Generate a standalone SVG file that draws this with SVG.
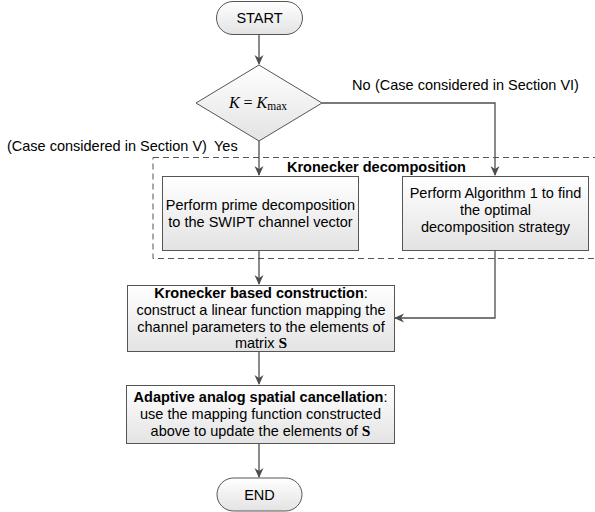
<svg xmlns="http://www.w3.org/2000/svg" width="595" height="512" viewBox="0 0 595 512">
<defs>
<linearGradient id="g" x1="0" y1="0" x2="0" y2="1">
<stop offset="0" stop-color="#ffffff"/>
<stop offset="1" stop-color="#e3e3e3"/>
</linearGradient>
<marker id="arr" viewBox="0 0 10 10" refX="9" refY="5" markerWidth="10" markerHeight="10" markerUnits="userSpaceOnUse" orient="auto">
<path d="M0,0.5 L10,5 L0,9.5 L3,5 z" fill="#4d4d4d"/>
</marker>
<style>
.n{fill:url(#g);stroke:#555;stroke-width:1}
.t{font-family:"Liberation Sans",Arial,Helvetica,sans-serif;font-size:14.5px;fill:#000}
.c{text-anchor:middle}
.b{font-weight:bold}
.e{stroke:#4d4d4d;stroke-width:1.3;fill:none}
.m{font-family:"Liberation Serif","Times New Roman",serif;fill:#000}
</style>
</defs>
<g id="kronecker-decomposition-group">
<rect x="153" y="157.5" width="450" height="101" fill="none" stroke="#555" stroke-width="1" stroke-dasharray="6,4"/>
<text class="t b" x="287" y="172" font-size="14">Kronecker decomposition</text>
</g>
<g id="connectors">
<path class="e" d="M259,34 V64" marker-end="url(#arr)"/>
<path class="e" d="M259,141 V175" marker-end="url(#arr)"/>
<path class="e" d="M322,103 H495 V175" marker-end="url(#arr)"/>
<path class="e" d="M259,250 V284" marker-end="url(#arr)"/>
<path class="e" d="M495,250 V318 H395" marker-end="url(#arr)"/>
<path class="e" d="M259,351 V384" marker-end="url(#arr)"/>
<path class="e" d="M259,443 V477" marker-end="url(#arr)"/>
<text class="t" x="352" y="90">No</text>
<text class="t" x="375" y="90">(Case considered in Section VI)</text>
<text class="t" x="7" y="151">(Case considered in Section V)</text>
<text class="t" x="214" y="151">Yes</text>
</g>
<g id="start">
<rect class="n" x="216.5" y="1.5" width="86" height="33" rx="16.5"/>
<text class="t c" x="259.5" y="23">START</text>
</g>
<g id="decision">
<polygon class="n" points="259,65 322,103 259,141 196,103"/>
<text class="m" x="258" y="108" text-anchor="middle" font-size="16"><tspan font-style="italic">K</tspan> = <tspan font-style="italic">K</tspan><tspan font-size="11.5" dy="2">max</tspan></text>
</g>
<g id="prime-decomposition">
<rect class="n" x="162.5" y="176.5" width="196" height="74"/>
<text class="t c" x="260.5" y="210">Perform prime decomposition</text>
<text class="t c" x="260.5" y="227">to the SWIPT channel vector</text>
</g>
<g id="algorithm1">
<rect class="n" x="402.5" y="176.5" width="186" height="74"/>
<text class="t c" x="495.5" y="198">Perform Algorithm 1 to find</text>
<text class="t c" x="495.5" y="215">the optimal</text>
<text class="t c" x="495.5" y="232">decomposition strategy</text>
</g>
<g id="kronecker-construction">
<rect class="n" x="127.5" y="285.5" width="267" height="66"/>
<text class="t c" x="261" y="298"><tspan class="b">Kronecker based construction</tspan>:</text>
<text class="t c" x="261" y="315">construct a linear function mapping the</text>
<text class="t c" x="261" y="332">channel parameters to the elements of</text>
<text class="t c" x="261" y="348">matrix <tspan class="m" font-weight="bold" font-size="15.5">S</tspan></text>
</g>
<g id="adaptive-cancellation">
<rect class="n" x="126.5" y="385.5" width="268" height="58"/>
<text class="t c" x="260.5" y="402"><tspan class="b">Adaptive analog spatial cancellation</tspan>:</text>
<text class="t c" x="260.5" y="419">use the mapping function constructed</text>
<text class="t c" x="260.5" y="436">above to update the elements of <tspan class="m" font-weight="bold" font-size="15.5">S</tspan></text>
</g>
<g id="end">
<rect class="n" x="217" y="478" width="85" height="33" rx="16.5"/>
<text class="t c" x="259.5" y="500">END</text>
</g>
</svg>
